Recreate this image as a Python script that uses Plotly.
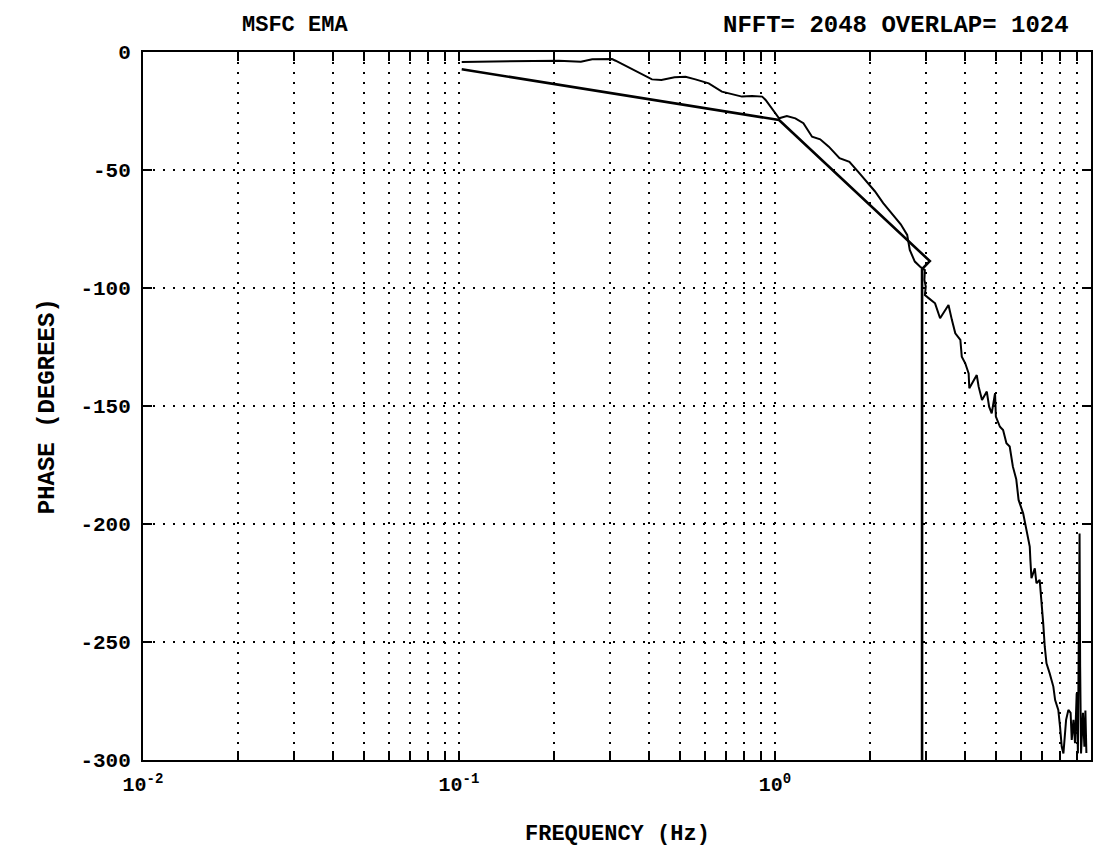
import plotly.graph_objects as go

# ---- data ----
freq_meas = [0.102, 0.207, 0.243, 0.264, 0.305, 0.313, 0.408, 0.437, 0.481, 0.521,
             0.560, 0.617, 0.679, 0.730, 0.786, 0.846, 0.911, 0.934, 1.03, 1.09,
             1.16, 1.23, 1.31, 1.39, 1.48, 1.60, 1.72, 1.84, 1.95, 2.07,
             2.20, 2.35, 2.50, 2.62, 2.67, 2.77, 2.88, 2.98, 2.97, 3.00, 2.98,
             3.07, 3.21, 3.33, 3.54, 3.63, 3.72, 3.86, 3.90, 4.00, 4.10,
             4.12, 4.35, 4.41, 4.52, 4.68, 4.76, 4.85, 4.97, 5.00, 5.15,
             5.27, 5.40, 5.53, 5.66, 5.80, 5.90, 6.10, 6.25, 6.40, 6.43,
             6.48, 6.64, 6.72, 6.88, 6.97, 7.06, 7.14, 7.23, 7.40, 7.60,
             7.70, 7.88, 7.98, 8.08, 8.18, 8.34, 8.48, 8.62, 8.69, 8.80,
             8.90, 9.01, 9.09, 9.20, 9.24, 9.30, 9.43, 9.53, 9.60, 9.67]
phase_meas = [-4.2, -3.7, -4.1, -3.1, -3.0, -3.7, -11.6, -11.9, -10.7, -10.5,
              -11.6, -13.3, -16.8, -17.8, -18.9, -18.6, -18.9, -20.3, -28.1, -27.1,
              -28.1, -30.2, -35.9, -37.0, -40.1, -45.0, -46.5, -51.0, -55.0, -59.0,
              -64.0, -68.5, -73.0, -77.5, -83.9, -88.8, -91.0, -92.4, -96.6, -99.4, -103.0,
              -104.4, -106.5, -112.8, -107.2, -113.6, -119.2, -122.0, -129.1, -131.9, -136.2,
              -142.5, -136.9, -141.8, -147.5, -143.9, -150.3, -153.1, -144.6, -154.5, -158.8,
              -160.2, -165.8, -167.2, -175.7, -181.0, -189.8, -195.5, -202.5, -209.6, -215.3,
              -223.0, -218.8, -225.1, -223.7, -232.2, -242.1, -252.0, -259.0, -263.3, -268.9,
              -274.6, -278.8, -285.9, -294.4, -297.2, -283.0, -278.8, -280.0, -291.5, -283.0,
              -292.9, -271.7, -297.2, -204.0, -260.5, -297.2, -280.0, -294.4, -279.0, -297.0]

freq_fit = [0.102, 1.03, 3.09, 2.92, 2.92]
phase_fit = [-7.3, -28.8, -88.6, -92.0, -300.0]

x_tick_vals = [0.01, 0.1, 1, 10]
x_tick_text = ["10<sup>-2</sup>", "10<sup>-1</sup>", "10<sup>0</sup>", "10<sup>1</sup>"]
y_tick_vals = [0, -50, -100, -150, -200, -250, -300]
y_tick_text = ["0", "-50", "-100", "-150", "-200", "-250", "-300"]

title_left = "MSFC EMA"
title_right = "NFFT= 2048 OVERLAP= 1024"
x_title = "FREQUENCY (Hz)"
y_title = "PHASE (DEGREES)"

FONT = "Liberation Mono"

fig = go.Figure()
fig.add_trace(go.Scatter(x=freq_fit, y=phase_fit, mode="lines",
                         line=dict(color="black", width=2.6), hoverinfo="skip"))
fig.add_trace(go.Scatter(x=freq_meas, y=phase_meas, mode="lines",
                         line=dict(color="black", width=2), hoverinfo="skip"))

fig.update_layout(
    width=1104, height=850,
    margin=dict(l=143, r=11, t=52, b=90),
    paper_bgcolor="white", plot_bgcolor="white",
    showlegend=False,
    font=dict(family=FONT, color="black", size=20, weight="bold"),
)

fig.update_xaxes(
    type="log", range=[-2, 1],
    tickvals=x_tick_vals, ticktext=x_tick_text,
    ticks="inside", ticklen=9, tickwidth=1.5, tickcolor="black",
    ticklabelstandoff=5,
    showline=True, linecolor="black", linewidth=2, mirror="ticks",
    showgrid=True, gridcolor="black", gridwidth=1.5, griddash="2px,8px",
    zeroline=False,
    tickfont=dict(family=FONT, size=20, weight="bold"),
    minor=dict(dtick="D1", ticks="inside", ticklen=9, tickwidth=1.5, tickcolor="black",
               showgrid=True, gridcolor="black", gridwidth=1.5, griddash="2px,8px"),
)
fig.update_yaxes(
    range=[-300, 0],
    tickvals=y_tick_vals, ticktext=y_tick_text,
    ticks="inside", ticklen=9, tickwidth=1.5, tickcolor="black",
    ticklabelstandoff=6,
    showline=True, linecolor="black", linewidth=2, mirror="ticks",
    showgrid=True, gridcolor="black", gridwidth=1.5, griddash="2px,8px",
    zeroline=False,
    tickfont=dict(family=FONT, size=21, weight="bold"),
)

fig.add_annotation(text=title_left, xref="paper", yref="paper", x=0.16, y=1.038,
                   showarrow=False, xanchor="center", yanchor="middle",
                   font=dict(family=FONT, size=22, weight="bold"))
fig.add_annotation(text=title_right, xref="paper", yref="paper", x=0.979, y=1.038,
                   showarrow=False, xanchor="right", yanchor="middle",
                   font=dict(family=FONT, size=24, weight="bold"))
fig.add_annotation(text=x_title, xref="paper", yref="paper", x=0.5, y=-0.105,
                   showarrow=False, xanchor="center", yanchor="middle",
                   font=dict(family=FONT, size=22, weight="bold"))
fig.add_annotation(text=y_title, xref="paper", yref="paper", x=-0.101, y=0.5,
                   showarrow=False, textangle=-90, xanchor="center", yanchor="middle",
                   font=dict(family=FONT, size=24, weight="bold"))

fig.write_html("out.html")
